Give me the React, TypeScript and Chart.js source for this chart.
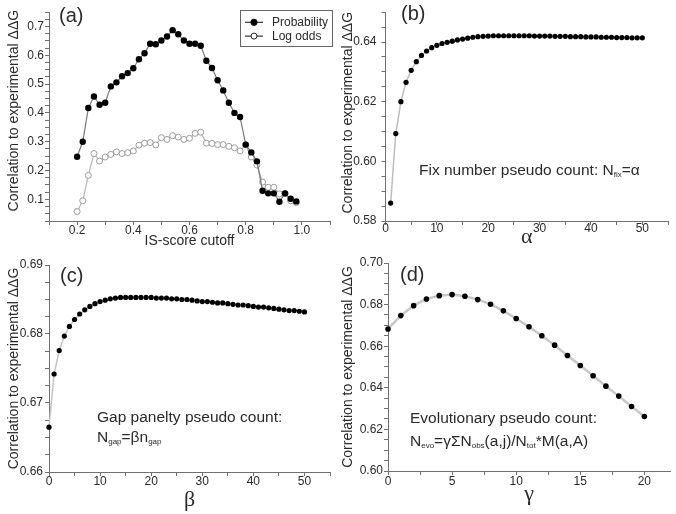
import React, { useEffect, useRef } from "react";
import { Chart, registerables } from "chart.js";

Chart.register(...registerables);

// ---------------- data ----------------
const isScoreCutoff = [0.20, 0.22, 0.24, 0.26, 0.28, 0.30, 0.32, 0.34, 0.36, 0.38, 0.40, 0.42, 0.44, 0.46, 0.48, 0.50, 0.52, 0.54, 0.56, 0.58, 0.60, 0.62, 0.64, 0.66, 0.68, 0.70, 0.72, 0.74, 0.76, 0.78, 0.80, 0.82, 0.84, 0.86, 0.88, 0.90, 0.92, 0.94, 0.96, 0.98];
const probability = [0.248, 0.300, 0.417, 0.457, 0.428, 0.435, 0.492, 0.506, 0.527, 0.538, 0.555, 0.586, 0.607, 0.640, 0.638, 0.651, 0.665, 0.687, 0.673, 0.651, 0.640, 0.640, 0.633, 0.581, 0.556, 0.513, 0.478, 0.435, 0.400, 0.386, 0.290, 0.263, 0.232, 0.130, 0.121, 0.121, 0.092, 0.121, 0.102, 0.093];
const logOdds = [0.058, 0.095, 0.183, 0.259, 0.233, 0.247, 0.256, 0.265, 0.259, 0.262, 0.268, 0.288, 0.295, 0.297, 0.289, 0.314, 0.308, 0.321, 0.316, 0.308, 0.312, 0.329, 0.333, 0.295, 0.294, 0.290, 0.290, 0.284, 0.279, 0.268, 0.289, 0.247, 0.219, 0.160, 0.142, 0.142, 0.119, 0.120, 0.095, 0.089];

const alphaValues = [1, 2, 3, 4, 5, 6, 7, 8, 9, 10, 11, 12, 13, 14, 15, 16, 17, 18, 19, 20, 21, 22, 23, 24, 25, 26, 27, 28, 29, 30, 31, 32, 33, 34, 35, 36, 37, 38, 39, 40, 41, 42, 43, 44, 45, 46, 47, 48, 49, 50];
const fixNumberCorr = [0.5860, 0.6093, 0.6200, 0.6265, 0.6305, 0.6334, 0.6355, 0.6370, 0.6381, 0.6389, 0.6395, 0.6399, 0.6403, 0.6407, 0.6410, 0.6413, 0.6416, 0.6418, 0.6419, 0.6420, 0.6421, 0.6421, 0.6421, 0.6421, 0.6421, 0.6421, 0.6421, 0.6421, 0.6420, 0.6420, 0.6420, 0.6420, 0.6419, 0.6419, 0.6419, 0.6418, 0.6418, 0.6418, 0.6417, 0.6417, 0.6417, 0.6416, 0.6416, 0.6416, 0.6415, 0.6415, 0.6415, 0.6414, 0.6414, 0.6414];

const betaValues = [0, 1, 2, 3, 4, 5, 6, 7, 8, 9, 10, 11, 12, 13, 14, 15, 16, 17, 18, 19, 20, 21, 22, 23, 24, 25, 26, 27, 28, 29, 30, 31, 32, 33, 34, 35, 36, 37, 38, 39, 40, 41, 42, 43, 44, 45, 46, 47, 48, 49, 50];
const gapPenaltyCorr = [0.6665, 0.6742, 0.6776, 0.6797, 0.6811, 0.6821, 0.6829, 0.6835, 0.6840, 0.6844, 0.6847, 0.6849, 0.6851, 0.6852, 0.6853, 0.6853, 0.6853, 0.6853, 0.6853, 0.6853, 0.6853, 0.6852, 0.6852, 0.6852, 0.6851, 0.6851, 0.6850, 0.6850, 0.6849, 0.6848, 0.6847, 0.6847, 0.6846, 0.6845, 0.6845, 0.6844, 0.6843, 0.6842, 0.6842, 0.6841, 0.6840, 0.6839, 0.6839, 0.6838, 0.6837, 0.6836, 0.6835, 0.6834, 0.6834, 0.6833, 0.6832];

const gammaValues = [0, 1, 2, 3, 4, 5, 6, 7, 8, 9, 10, 11, 12, 13, 14, 15, 16, 17, 18, 19, 20];
const evolutionaryCorr = [0.6683, 0.6747, 0.6795, 0.6827, 0.6843, 0.6848, 0.6840, 0.6824, 0.6802, 0.6770, 0.6733, 0.6693, 0.6650, 0.6605, 0.6555, 0.6507, 0.6458, 0.6408, 0.6360, 0.6310, 0.6262];

// tick labels (major ticks)
const aXLabels = [0.2, 0.4, 0.6, 0.8, 1.0];
const aYLabels = [0.1, 0.2, 0.3, 0.4, 0.5, 0.6, 0.7];
const bXLabels = [0, 10, 20, 30, 40, 50];
const bYLabels = [0.58, 0.60, 0.62, 0.64];
const cXLabels = [0, 10, 20, 30, 40, 50];
const cYLabels = [0.66, 0.67, 0.68, 0.69];
const dXLabels = [0, 5, 10, 15, 20];
const dYLabels = [0.60, 0.62, 0.64, 0.66, 0.68, 0.70];

const Y_TITLE = "Correlation to experimental \u0394\u0394G";

// ---------------- helpers ----------------
const SANS = "'Liberation Sans', Arial, Helvetica, sans-serif";
const SERIF = "'Liberation Serif', 'Times New Roman', serif";
const W = 676;
const H = 514;
const AXIS = "#707070";
const TXT = "#2a2a2a";

function tickPositions(min: number, max: number, step: number) {
  const out: number[] = [];
  const n = Math.round((max - min) / step);
  for (let i = 0; i <= n; i++) out.push(+(min + i * step).toFixed(6));
  return out;
}

function makeAxis(o: {
  min: number; max: number; step: number; majors: number[]; dec: number; pad: number;
  horizontal: boolean; size: number; title: string; titleFont: any;
}) {
  const minor = tickPositions(o.min, o.max, o.step);
  return {
    type: "linear",
    position: o.horizontal ? "bottom" : "left",
    min: o.min,
    max: o.max,
    afterBuildTicks: (s: any) => {
      s.ticks = minor.map((v) => ({ value: v }));
    },
    afterFit: (s: any) => {
      if (o.horizontal) s.height = o.size;
      else s.width = o.size;
    },
    ticks: {
      autoSkip: false,
      maxRotation: 0,
      minRotation: 0,
      padding: o.pad,
      color: TXT,
      font: { family: SANS, size: 12 },
      callback: (v: any) => {
        const val = Number(v);
        const hit = o.majors.find((m) => Math.abs(m - val) < 1e-7);
        return hit === undefined ? "" : hit.toFixed(o.dec);
      },
    },
    grid: {
      display: true,
      drawOnChartArea: false,
      drawTicks: true,
      tickLength: 4,
      color: AXIS,
      tickColor: AXIS,
      lineWidth: 1,
      tickWidth: 1,
    },
    border: { display: true, color: AXIS, width: 1 },
    title: {
      display: true,
      text: o.title,
      color: TXT,
      font: o.titleFont,
      padding: 0,
    },
  };
}

const boxLegend = {
  id: "boxLegend",
  afterDraw(chart: any, _args: any, opts: any) {
    if (!opts || !opts.display) return;
    const ctx = chart.ctx;
    ctx.save();
    ctx.strokeStyle = opts.borderColor;
    ctx.lineWidth = 1;
    ctx.strokeRect(opts.x + 0.5, opts.y + 0.5, opts.width, opts.height);
    chart.data.datasets.forEach((ds: any, i: number) => {
      const cy = opts.y + opts.firstRow + i * opts.rowGap;
      ctx.strokeStyle = opts.lineColor;
      ctx.lineWidth = 1.2;
      ctx.beginPath();
      ctx.moveTo(opts.x + 5, cy);
      ctx.lineTo(opts.x + 23, cy);
      ctx.stroke();
      ctx.beginPath();
      ctx.arc(opts.x + 14, cy, ds.pointRadius, 0, Math.PI * 2);
      ctx.fillStyle = ds.pointBackgroundColor;
      ctx.fill();
      ctx.strokeStyle = opts.markerBorder;
      ctx.lineWidth = 1;
      ctx.stroke();
      ctx.fillStyle = opts.color;
      ctx.font = opts.font;
      ctx.textBaseline = "middle";
      ctx.textAlign = "left";
      ctx.fillText(ds.label, opts.x + 32, cy + 0.5);
    });
    ctx.restore();
  },
};

type Area = { l: number; r: number; t: number; b: number };

function makeConfig(p: {
  area: Area; yTitleX: number; xTitleY: number; yTitle: string;
  xTitle: string; xTitleFont: any; xTitleLH: number;
  xPad: number; yPad: number;
  x: { min: number; max: number; step: number; majors: number[]; dec: number };
  y: { min: number; max: number; step: number; majors: number[]; dec: number };
  datasets: any[]; legend?: boolean;
}) {
  const yLH = 14 * 1.2;
  const padLeft = p.yTitleX - yLH / 2;
  const yWidth = p.area.l - padLeft;
  const xHeight = p.xTitleY + p.xTitleLH / 2 - p.area.b;
  const padBottom = H - p.area.b - xHeight;
  return {
    type: "line",
    data: { datasets: p.datasets },
    plugins: [boxLegend],
    options: {
      responsive: false,
      animation: false,
      devicePixelRatio: 1,
      parsing: false,
      layout: {
        padding: { left: padLeft, right: W - p.area.r, top: p.area.t, bottom: padBottom },
      },
      plugins: {
        legend: { display: false },
        tooltip: { enabled: false },
        boxLegend: {
          display: !!p.legend,
          x: 240, y: 10, width: 92, height: 36,
          firstRow: 12.3, rowGap: 13.8,
          borderColor: "#666", lineColor: "#333", markerBorder: "#222",
          color: TXT, font: `12px ${SANS}`,
        },
      },
      scales: {
        x: makeAxis({ ...p.x, pad: p.xPad, horizontal: true, size: xHeight, title: p.xTitle, titleFont: p.xTitleFont }),
        y: makeAxis({ ...p.y, pad: p.yPad, horizontal: false, size: yWidth, title: p.yTitle, titleFont: { family: SANS, size: 14, lineHeight: 1.2 } }),
      },
    },
  };
}

function pts(xs: number[], ys: number[]) {
  return xs.map((x, i) => ({ x, y: ys[i] }));
}

function darkSeries(xs: number[], ys: number[], o: { line: string; lw: number; r: number }) {
  return {
    label: "",
    data: pts(xs, ys),
    borderColor: o.line,
    borderWidth: o.lw,
    pointRadius: o.r,
    pointBackgroundColor: "#000",
    pointBorderColor: "#000",
    pointBorderWidth: 0,
    tension: 0,
    clip: false,
  };
}

export default function App() {
  const aRef = useRef<HTMLCanvasElement | null>(null);
  const bRef = useRef<HTMLCanvasElement | null>(null);
  const cRef = useRef<HTMLCanvasElement | null>(null);
  const dRef = useRef<HTMLCanvasElement | null>(null);

  useEffect(() => {
    const serifTitle = { family: SERIF, size: 22, lineHeight: 1.2 };
    const charts: Chart[] = [];

    const cfgA = makeConfig({
      area: { l: 49, r: 330, t: 12, b: 221 },
      yTitleX: 14,
      yTitle: "   " + Y_TITLE,
      xTitleY: 241.5,
      xTitle: "IS-score cutoff",
      xTitleFont: { family: SANS, size: 14, lineHeight: 1.2 },
      xTitleLH: 14 * 1.2,
      xPad: -2,
      yPad: 1,
      x: { min: 0.1, max: 1.1, step: 0.1, majors: aXLabels, dec: 1 },
      y: { min: 0.025, max: 0.75, step: 0.025, majors: aYLabels, dec: 1 },
      legend: true,
      datasets: [
        {
          label: "Probability",
          data: pts(isScoreCutoff, probability),
          borderColor: "#7a7a7a",
          borderWidth: 1.2,
          pointRadius: 3.2,
          pointBackgroundColor: "#000",
          pointBorderColor: "#000",
          pointBorderWidth: 0,
          tension: 0,
          clip: false,
        },
        {
          label: "Log odds",
          data: pts(isScoreCutoff, logOdds),
          borderColor: "#b4b4b4",
          borderWidth: 1.2,
          pointRadius: 3,
          pointBackgroundColor: "#fff",
          pointBorderColor: "#9a9a9a",
          pointBorderWidth: 1,
          tension: 0,
          clip: false,
        },
      ],
    });

    const cfgB = makeConfig({
      area: { l: 385.5, r: 668, t: 11, b: 221 },
      yTitleX: 348,
      yTitle: "  " + Y_TITLE,
      xTitleY: 237,
      xTitle: "\u03B1",
      xTitleFont: serifTitle,
      xTitleLH: 22 * 1.2,
      xPad: -4,
      yPad: 5,
      x: { min: 0, max: 55, step: 5, majors: bXLabels, dec: 0 },
      y: { min: 0.58, max: 0.65, step: 0.005, majors: bYLabels, dec: 2 },
      datasets: [darkSeries(alphaValues, fixNumberCorr, { line: "#bdbdbd", lw: 1.5, r: 2.6 })],
    });

    const cfgC = makeConfig({
      area: { l: 49, r: 330, t: 265, b: 472 },
      yTitleX: 14,
      yTitle: Y_TITLE,
      xTitleY: 500,
      xTitle: "\u03B2",
      xTitleFont: serifTitle,
      xTitleLH: 22 * 1.2,
      xPad: -2,
      yPad: 2,
      x: { min: 0, max: 55, step: 5, majors: cXLabels, dec: 0 },
      y: { min: 0.66, max: 0.69, step: 0.0025, majors: cYLabels, dec: 2 },
      datasets: [darkSeries(betaValues, gapPenaltyCorr, { line: "#c4c4c4", lw: 1.5, r: 2.6 })],
    });

    const cfgD = makeConfig({
      area: { l: 388, r: 670, t: 263, b: 471 },
      yTitleX: 348,
      yTitle: Y_TITLE,
      xTitleY: 494.5,
      xTitle: "\u03B3",
      xTitleFont: serifTitle,
      xTitleLH: 22 * 1.2,
      xPad: -1,
      yPad: 1,
      x: { min: 0, max: 22, step: 2.5, majors: dXLabels, dec: 0 },
      y: { min: 0.6, max: 0.7, step: 0.005, majors: dYLabels, dec: 2 },
      datasets: [darkSeries(gammaValues, evolutionaryCorr, { line: "#c8c8c8", lw: 2.5, r: 2.8 })],
    });

    const pairs: [HTMLCanvasElement | null, any][] = [
      [aRef.current, cfgA],
      [bRef.current, cfgB],
      [cRef.current, cfgC],
      [dRef.current, cfgD],
    ];
    pairs.forEach(([cv, cfg]) => {
      if (cv) charts.push(new Chart(cv, cfg));
    });
    return () => charts.forEach((c) => c.destroy());
  }, []);

  const canvasStyle: React.CSSProperties = {
    position: "absolute",
    left: 0,
    top: 0,
    width: W,
    height: H,
  };
  const label = (left: number, top: number, size: number): React.CSSProperties => ({
    position: "absolute",
    left,
    top,
    fontFamily: SANS,
    fontSize: size,
    lineHeight: `${size}px`,
    color: TXT,
    whiteSpace: "nowrap",
  });
  const sub: React.CSSProperties = { fontSize: 8, verticalAlign: -2, lineHeight: "8px" };

  return (
    <div style={{ position: "fixed", left: 0, top: 0, width: W, height: H, background: "#fff", overflow: "hidden" }}>
      <canvas ref={aRef} width={W} height={H} style={canvasStyle} />
      <canvas ref={bRef} width={W} height={H} style={canvasStyle} />
      <canvas ref={cRef} width={W} height={H} style={canvasStyle} />
      <canvas ref={dRef} width={W} height={H} style={canvasStyle} />

      <div style={label(59, 5, 20)}>(a)</div>
      <div style={label(401, 2.5, 20)}>(b)</div>
      <div style={label(60, 264.5, 20)}>(c)</div>
      <div style={label(400, 263.5, 20)}>(d)</div>

      <div style={label(419, 162, 15.5)}>
        Fix number pseudo count: N<span style={sub}>fix</span>=α
      </div>
      <div style={label(97, 408.5, 15.5)}>Gap panelty pseudo count:</div>
      <div style={label(97, 428.5, 15.5)}>
        N<span style={sub}>gap</span>=βn<span style={sub}>gap</span>
      </div>
      <div style={label(410, 409.5, 15.5)}>Evolutionary pseudo count:</div>
      <div style={label(410, 432.5, 15.5)}>
        N<span style={sub}>evo</span>=γΣN<span style={sub}>obs</span>(a,j)/N<span style={sub}>tot</span>*M(a,A)
      </div>
    </div>
  );
}
